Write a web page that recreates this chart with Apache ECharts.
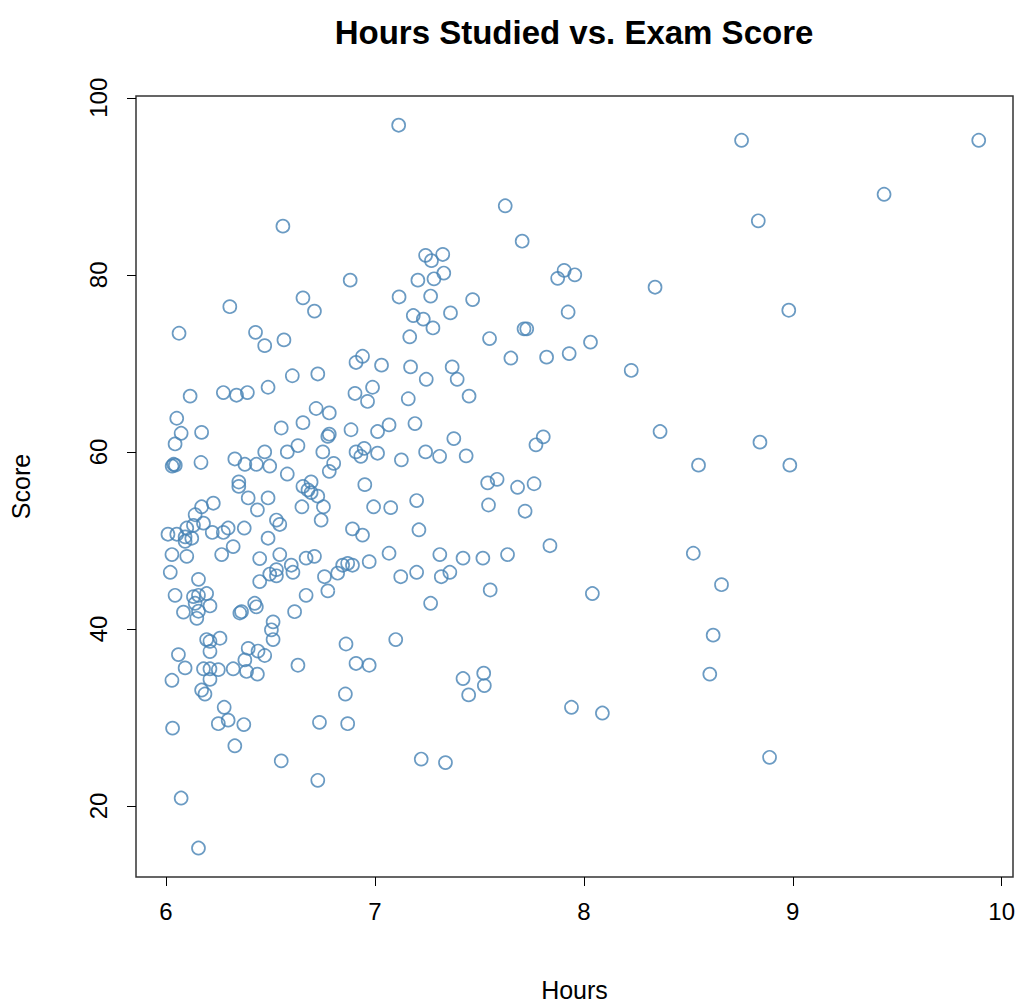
<!DOCTYPE html>
<html>
<head>
<meta charset="utf-8">
<script src="https://cdn.jsdelivr.net/npm/echarts@6/dist/echarts.min.js"></script>
<style>
html,body{margin:0;padding:0;background:#fff;}
#chart{width:1029px;height:1008px;}
</style>
</head>
<body>
<div id="chart"></div>
<script>
const chartTitle = "Hours Studied vs. Exam Score";
const xTitle = "Hours";
const yTitle = "Score";
const xTicks = [6, 7, 8, 9, 10];
const yTicks = [20, 40, 60, 80, 100];

const hours = [
7.114, 8.755, 9.89, 9.437, 7.624, 6.56, 8.835, 7.705, 6.882, 8.341,
6.306, 6.656, 6.711, 7.116, 7.468, 8.981, 6.063, 6.429, 6.473, 6.565,
7.243, 7.271, 7.325, 7.206, 7.283, 7.33, 7.875, 7.906, 7.957, 7.267,
7.184, 7.232, 7.278, 7.362, 7.167, 7.549, 7.925, 7.714, 7.727, 8.032,
7.651, 7.822, 7.93, 7.032, 7.171, 7.246, 7.37, 7.394, 7.451, 7.16,
6.989, 6.965, 7.068, 7.013, 7.192, 7.378, 7.806, 7.771, 7.013, 7.127,
7.243, 7.31, 7.437, 7.54, 7.585, 7.683, 7.762, 6.941, 6.91, 6.605,
6.727, 6.116, 6.275, 6.338, 6.39, 6.489, 6.905, 6.719, 6.782, 6.052,
6.073, 6.171, 6.044, 6.552, 6.656, 6.886, 6.775, 6.782, 6.751, 6.581,
6.632, 6.473, 6.91, 6.933, 6.949, 6.03, 6.037, 6.045, 6.168, 6.33,
6.378, 6.433, 6.497, 6.581, 6.349, 6.349, 6.695, 6.656, 6.68, 6.695,
6.727, 6.803, 6.782, 6.952, 6.394, 6.489, 6.438, 6.651, 6.754, 6.743,
6.994, 6.893, 6.941, 6.973, 6.171, 6.227, 6.14, 6.18, 6.132, 6.1,
6.01, 6.052, 6.092, 6.092, 6.124, 6.222, 6.275, 6.298, 6.375, 6.489,
6.529, 6.545, 6.029, 6.1, 6.021, 6.156, 6.044, 6.132, 6.156, 6.195,
6.14, 6.211, 6.084, 6.156, 6.148, 6.267, 6.322, 6.449, 6.545, 6.449,
6.497, 6.529, 6.529, 6.6, 6.608, 6.671, 6.711, 6.759, 6.775, 6.822,
6.846, 6.87, 6.893, 6.671, 6.616, 6.362, 6.354, 6.425, 6.433, 6.513,
6.505, 6.513, 6.195, 6.211, 6.259, 6.211, 6.06, 6.092, 6.029, 6.394,
6.441, 6.473, 6.378, 6.386, 6.438, 6.322, 6.18, 6.211, 6.251, 6.211,
6.632, 6.862, 6.91, 6.973, 6.171, 6.187, 6.279, 6.251, 6.298, 6.373,
6.032, 6.33, 6.552, 6.727, 6.735, 6.87, 6.859, 6.073, 6.156, 7.076,
7.2, 7.544, 7.719, 7.211, 7.838, 7.068, 7.311, 7.422, 7.517, 7.635,
7.124, 7.2, 7.318, 7.359, 7.552, 8.041, 7.267, 7.1, 7.422, 7.521,
7.524, 7.449, 7.941, 8.089, 7.222, 7.338, 8.227, 8.365, 8.843, 8.549,
8.986, 8.524, 8.659, 8.619, 8.603, 8.889
];

const scores = [
96.9, 95.2, 95.2, 89.1, 87.8, 85.5, 86.1, 83.8, 79.4, 78.6,
76.4, 77.4, 75.9, 77.5, 77.2, 76.0, 73.4, 73.5, 72.0, 72.65,
82.2, 81.6, 82.3, 79.4, 79.55, 80.2, 79.6, 80.5, 80.0, 77.6,
75.4, 75.0, 74.0, 75.7, 73.0, 72.8, 75.8, 73.9, 73.9, 72.4,
70.6, 70.7, 71.1, 69.8, 69.6, 68.2, 69.6, 68.2, 66.3, 66.0,
67.3, 65.7, 63.05, 62.3, 63.2, 61.5, 61.7, 60.8, 59.85, 59.1,
60.0, 59.5, 59.55, 56.5, 56.9, 56.0, 56.4, 70.8, 70.1, 68.6,
68.8, 66.3, 66.7, 66.4, 66.7, 67.3, 66.6, 64.9, 64.4, 63.8,
62.1, 62.2, 60.9, 62.7, 63.3, 62.5, 61.75, 62.0, 60.0, 60.0,
60.7, 60.0, 60.0, 59.5, 60.4, 58.4, 58.6, 58.5, 58.8, 59.2,
58.6, 58.6, 58.4, 57.5, 56.6, 56.1, 56.6, 56.1, 55.7, 55.4,
55.0, 58.7, 57.8, 56.3, 54.8, 54.8, 53.45, 53.8, 53.8, 52.3,
53.8, 51.3, 50.6, 47.6, 53.8, 54.2, 52.9, 51.95, 51.7, 51.4,
50.7, 50.7, 50.4, 49.9, 50.25, 50.9, 50.9, 51.4, 51.4, 50.25,
52.3, 51.8, 48.4, 48.2, 46.4, 45.6, 43.8, 43.65, 43.8, 44.0,
42.9, 42.6, 41.9, 42.0, 41.2, 48.4, 49.3, 47.95, 48.4, 45.35,
46.2, 46.7, 46.0, 47.2, 46.4, 48.0, 48.2, 45.9, 44.3, 46.3,
47.2, 47.4, 47.2, 43.8, 41.95, 41.95, 41.8, 42.9, 42.5, 40.8,
39.9, 38.8, 38.8, 38.6, 38.95, 37.45, 37.1, 35.6, 34.2, 37.8,
37.5, 37.0, 36.5, 35.2, 34.9, 35.5, 35.5, 35.5, 35.4, 34.3,
35.9, 38.3, 36.1, 35.9, 33.1, 32.65, 31.15, 29.3, 29.7, 29.2,
28.8, 26.8, 25.1, 22.9, 29.45, 29.3, 32.65, 20.9, 15.25, 53.7,
54.5, 54.0, 53.3, 51.2, 49.4, 48.55, 48.4, 48.0, 48.0, 48.4,
45.9, 46.4, 45.9, 46.4, 44.4, 44.0, 42.9, 38.8, 34.4, 35.0,
33.6, 32.55, 31.15, 30.5, 25.3, 24.9, 69.2, 62.3, 61.1, 58.5,
58.5, 48.55, 45.0, 39.3, 34.9, 25.5
];

const points = hours.map((h, i) => [h, scores[i]]);
const font = "'Liberation Sans', Arial, Helvetica, sans-serif";

const chart = echarts.init(document.getElementById('chart'), null, {renderer: 'svg'});
chart.setOption({
  animation: false,
  backgroundColor: '#ffffff',
  title: {
    text: chartTitle,
    left: 569,
    top: 11,
    textAlign: 'center',
    textStyle: {fontFamily: font, fontSize: 33, fontWeight: 'bold', color: '#000'}
  },
  grid: {
    left: 135, right: 16, top: 96, bottom: 131,
    show: true, borderColor: '#333', borderWidth: 1.5, backgroundColor: 'transparent'
  },
  xAxis: {
    type: 'value',
    min: 5.857, max: 10.054,
    name: xTitle,
    nameLocation: 'middle',
    nameGap: 100,
    nameTextStyle: {fontFamily: font, fontSize: 25, color: '#000'},
    axisLine: {show: false},
    axisTick: {show: true, length: 9, customValues: xTicks, lineStyle: {color: '#000', width: 1}},
    axisLabel: {show: true, customValues: xTicks, margin: 22, fontFamily: font, fontSize: 24, color: '#000'},
    splitLine: {show: false}
  },
  yAxis: {
    type: 'value',
    min: 11.98, max: 100.2,
    name: yTitle,
    nameLocation: 'middle',
    nameGap: 103,
    nameTextStyle: {fontFamily: font, fontSize: 25, color: '#000'},
    axisLine: {show: false},
    axisTick: {show: true, length: 9, customValues: yTicks, lineStyle: {color: '#000', width: 1}},
    axisLabel: {show: true, customValues: yTicks, rotate: 90, margin: 26, fontFamily: font, fontSize: 24, color: '#000'},
    splitLine: {show: false}
  },
  series: [{
    type: 'scatter',
    data: points,
    symbol: 'circle',
    symbolSize: 13,
    itemStyle: {color: 'rgba(0,0,0,0)', borderColor: '#4682B4', borderWidth: 1.7},
    emphasis: {disabled: true},
    silent: true
  }]
});
</script>
</body>
</html>
